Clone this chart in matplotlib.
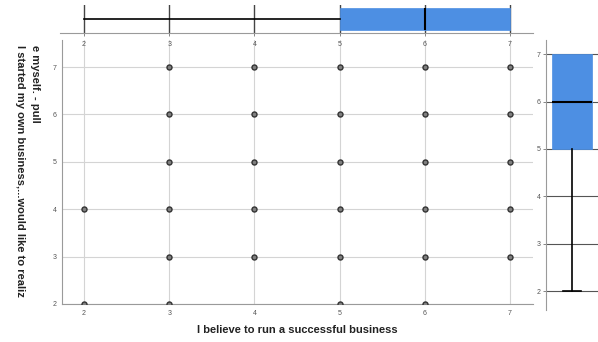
import matplotlib

matplotlib.use("Agg")
import matplotlib.pyplot as plt

plt.rcParams["font.family"] = ["Liberation Sans", "DejaVu Sans"]

# response pairs present in the data (x: run a business, y: realize myself)
pts_x = [3, 4, 5, 6, 7,
         3, 4, 5, 6, 7,
         3, 4, 5, 6, 7,
         2, 3, 4, 5, 6, 7,
         3, 4, 5, 6, 7,
         2, 3, 5, 6]
pts_y = [7, 7, 7, 7, 7,
         6, 6, 6, 6, 6,
         5, 5, 5, 5, 5,
         4, 4, 4, 4, 4, 4,
         3, 3, 3, 3, 3,
         2, 2, 2, 2]

# five-number summaries for the marginal box plots
x_summary = {"whislo": 2, "q1": 5, "med": 6, "q3": 7, "whishi": 7}
y_summary = {"whislo": 2, "q1": 5, "med": 6, "q3": 7, "whishi": 7}

ticks = [2, 3, 4, 5, 6, 7]
xlabel = "I believe to run a successful business"
ylabel_a = "I started my own business,...would like to realiz"
ylabel_b = "e myself. - pull"

W, H = 598, 342
fig = plt.figure(figsize=(W / 100, H / 100), dpi=100)


def box(l, t, r, b):
    return [l / W, 1 - b / H, (r - l) / W, (b - t) / H]


grid_c = "#d4d4d4"
spine_c = "#9a9a9a"
blue = "#4d8fe3"
tick_kw = dict(labelsize=5, colors="#555555", length=2, width=0.5, pad=2)

# main scatter
ax = fig.add_axes(box(62, 40, 533, 304))
ax.scatter(pts_x, pts_y, s=13, facecolor="#808080", edgecolor="#333333",
           linewidth=1.0, zorder=3, clip_on=True)
ax.set_xlim(1.742, 7.27)
ax.set_ylim(2, 7.57)
ax.set_xticks(ticks)
ax.set_yticks(ticks)
ax.grid(True, color=grid_c, linewidth=0.8)
ax.set_axisbelow(True)
for s in ("top", "right"):
    ax.spines[s].set_visible(False)
for s in ("left", "bottom"):
    ax.spines[s].set_color(spine_c)
    ax.spines[s].set_linewidth(0.8)
ax.tick_params(**tick_kw)
ax.tick_params(length=0, pad=4)

# top marginal box plot
axt = fig.add_axes(box(60, 5, 533, 33))
stats = dict(x_summary, fliers=[])
axt.bxp([stats], positions=[0.5], widths=0.78, vert=False, patch_artist=True,
        showcaps=False,
        boxprops=dict(facecolor=blue, edgecolor=blue, linewidth=0.5),
        medianprops=dict(color="black", linewidth=1.5),
        whiskerprops=dict(color="black", linewidth=1.2))
axt.set_xlim(1.742 - 2 / 85.2, 7.27)
axt.set_ylim(0, 1)
axt.set_xticks(ticks)
axt.set_yticks([])
axt.grid(True, axis="x", color="#444444", linewidth=1.0)
axt.set_axisbelow(True)
for s in ("top", "right", "left"):
    axt.spines[s].set_visible(False)
axt.spines["bottom"].set_color(spine_c)
axt.spines["bottom"].set_linewidth(0.8)
axt.tick_params(**tick_kw)
axt.tick_params(axis="x", pad=4)

# right marginal box plot
axr = fig.add_axes(box(546, 40, 598, 310))
stats = dict(y_summary, fliers=[])
parts = axr.bxp([stats], positions=[0.5], widths=0.77, patch_artist=True,
                capwidths=0.35,
                boxprops=dict(facecolor=blue, edgecolor=blue, linewidth=0.5),
                medianprops=dict(color="black", linewidth=1.5),
                whiskerprops=dict(color="black", linewidth=1.2),
                capprops=dict(color="black", linewidth=1.2))
parts["caps"][1].set_visible(False)
axr.set_ylim(1.6, 7.3)
axr.set_xlim(0, 1)
axr.set_yticks(ticks)
axr.set_xticks([])
axr.grid(True, axis="y", color="#555555", linewidth=0.8)
axr.set_axisbelow(True)
for s in ("top", "right", "bottom"):
    axr.spines[s].set_visible(False)
axr.spines["left"].set_color(spine_c)
axr.spines["left"].set_linewidth(0.8)
axr.tick_params(**tick_kw)

# axis titles
fig.text(297 / W, 1 - 330 / H, xlabel, ha="center", va="center",
         fontsize=8, fontweight="bold", color="#222222")
fig.text(20 / W, 1 - 45 / H, ylabel_a, ha="center", va="top", rotation=270,
         fontsize=8, fontweight="bold", color="#222222")
fig.text(35 / W, 1 - 45 / H, ylabel_b, ha="center", va="top", rotation=270,
         fontsize=8, fontweight="bold", color="#222222")

fig.savefig("out.png", dpi=100)
